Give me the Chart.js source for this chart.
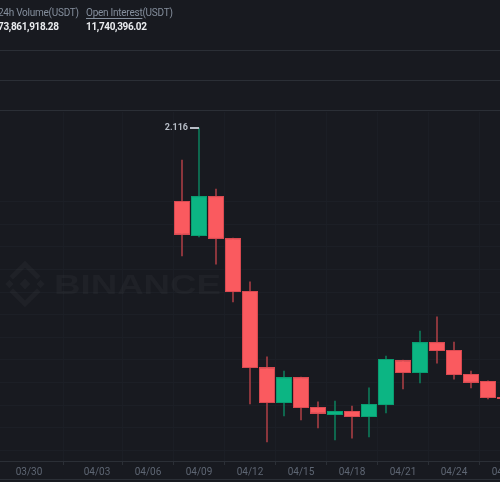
<!DOCTYPE html>
<html><head><meta charset="utf-8">
<script src="https://cdn.jsdelivr.net/npm/chart.js@4.4.0/dist/chart.umd.min.js"></script>
<style>
html,body{margin:0;padding:0;background:#181a20;width:500px;height:482px;overflow:hidden;font-family:Roboto,"Noto Sans",sans-serif;}
#wrap{position:relative;width:500px;height:482px;}
canvas{position:absolute;left:0;top:0;}
.hdr{position:absolute;font-size:10px;color:#848e9c;white-space:nowrap;line-height:12px;letter-spacing:-0.25px;}
.val{position:absolute;font-size:10px;color:#eaecef;font-weight:bold;white-space:nowrap;line-height:12px;letter-spacing:-0.35px;}
.ul{text-decoration:underline;text-decoration-color:#848e9c;text-underline-offset:2px;}
.hl{position:absolute;left:0;width:500px;height:1px;background:#2b2f36;}
</style></head>
<body><div id="wrap">
<canvas id="c" width="500" height="482"></canvas>
<div class="hdr" style="left:-2px;top:7px">24h Volume(USDT)</div>
<div class="hdr" style="left:86px;top:7px"><span class="ul">Open Interest</span>(USDT)</div>
<div class="val" style="left:-2px;top:21px">73,861,918.28</div>
<div class="val" style="left:86px;top:21px">11,740,396.02</div>
<div class="hl" style="top:50px"></div>
<div class="hl" style="top:80px"></div>
<div class="hl" style="top:110px"></div>
<div class="hl" style="top:479px"></div>
</div>
<script>
// candle dates (day offset from 03/30) and labels
const dates = ['04/08','04/09','04/10','04/11','04/12','04/13','04/14','04/15','04/16','04/17','04/18','04/19','04/20','04/21','04/22','04/23','04/24','04/25','04/26','04/27'];
const days  = [9,10,11,12,13,14,15,16,17,18,19,20,21,22,23,24,25,26,27,28];
const opens  = [1.793,1.638,1.815,1.629,1.395,1.058,0.899,1.014,0.882,0.846,0.864,0.837,0.890,1.089,1.032,1.169,1.134,1.028,0.997,0.926];
const highs  = [1.974,2.116,1.846,1.629,1.435,1.103,1.041,1.014,0.904,0.908,0.886,0.966,1.107,1.089,1.218,1.280,1.169,1.041,0.997,0.926];
const lows   = [1.550,1.634,1.514,1.346,0.895,0.727,0.842,0.824,0.789,0.736,0.744,0.749,0.855,0.961,0.988,1.076,1.005,0.966,0.917,0.917];
const closes = [1.643,1.815,1.625,1.390,1.054,0.899,1.014,0.877,0.851,0.864,0.837,0.895,1.094,1.032,1.169,1.129,1.023,0.988,0.921,0.917];
// x-axis ticks
const tickDays   = [0,4,7,10,13,16,19,22,25,28];
const tickLabels = ['03/30','04/03','04/06','04/09','04/12','04/15','04/18','04/21','04/24','04/27'];
// horizontal grid values
const gridPrices = [1.79,1.69,1.59,1.49,1.39,1.29,1.19,1.09,0.99,0.89,0.79,0.69];

const UP='#0cb583', DOWN='#fa5a5f', UPB='#0a9e72', DOWNB='#d94a51', UPW='#0f6e52', DOWNW='#94393f';
const isUp = i => closes[i] >= opens[i];

const extras = {
  id:'extras',
  beforeDatasetsDraw(chart){
    const ctx = chart.ctx;
    ctx.save();
    ctx.fillStyle='rgba(255,255,255,0.03)';
    ctx.strokeStyle='rgba(255,255,255,0.03)';
    const cx=25, cy=284, s=6;
    const dia=(x,y,r)=>{ctx.beginPath();ctx.moveTo(x,y-r);ctx.lineTo(x+r,y);ctx.lineTo(x,y+r);ctx.lineTo(x-r,y);ctx.closePath();ctx.fill();};
    dia(cx,cy,s*0.9); dia(cx-2.6*s,cy,s*0.7); dia(cx+2.6*s,cy,s*0.7);
    ctx.lineWidth=5;
    ctx.beginPath();ctx.moveTo(cx-2.3*s,cy-1.0*s);ctx.lineTo(cx,cy-3.3*s);ctx.lineTo(cx+2.3*s,cy-1.0*s);ctx.stroke();
    ctx.beginPath();ctx.moveTo(cx-2.3*s,cy+1.0*s);ctx.lineTo(cx,cy+3.3*s);ctx.lineTo(cx+2.3*s,cy+1.0*s);ctx.stroke();
    ctx.font='bold 28px "Liberation Sans", Arial, sans-serif';
    ctx.textBaseline='alphabetic';
    const w=ctx.measureText('BINANCE').width;
    ctx.translate(54,294); ctx.scale(167/w,1);
    ctx.fillText('BINANCE',0,0);
    ctx.restore();
  },
  afterDatasetsDraw(chart){
    const ctx=chart.ctx, xs=chart.scales.x, ys=chart.scales.y;
    let mi=0; highs.forEach((h,i)=>{ if(h>highs[mi]) mi=i; });
    const px=Math.round(xs.getPixelForValue(days[mi])), py=Math.round(ys.getPixelForValue(highs[mi]));
    ctx.save();
    ctx.fillStyle='#b7bdc6'; ctx.fillRect(px-9,py-1,9,2);
    ctx.font='bold 9px Roboto, sans-serif'; ctx.textAlign='right'; ctx.textBaseline='middle';
    ctx.fillText(highs[mi].toFixed(3), px-11, py);
    ctx.restore();
  }
};

new Chart(document.getElementById('c'), {
  type:'bar',
  data:{
    datasets:[
      { label:'body', order:1, grouped:false,
        data: days.map((d,i)=>({x:d, y:[opens[i], closes[i]]})),
        backgroundColor: days.map((d,i)=>isUp(i)?UP:DOWN),
        borderColor: days.map((d,i)=>isUp(i)?UPB:DOWNB),
        borderWidth:1, borderSkipped:false,
        barPercentage:0.94, categoryPercentage:1 },
      { label:'wick', order:2, grouped:false,
        data: days.map((d,i)=>({x:d, y:[lows[i], highs[i]]})),
        backgroundColor: days.map((d,i)=>isUp(i)?UPW:DOWNW),
        barThickness:1.2 }
    ]
  },
  options:{
    responsive:false, animation:false,
    layout:{padding:{top:112,left:0,right:0,bottom:0}},
    plugins:{legend:{display:false}, tooltip:{enabled:false}},
    scales:{
      x:{ type:'linear', min:-1.706, max:27.706, offset:false, bounds:'data',
        grid:{color:'#1b1e25', tickColor:'#2b2f36', tickLength:4},
        border:{color:'#2b2f36'},
        ticks:{autoSkip:false, maxRotation:0, padding:1, color:'#5e6673',
               font:{size:10, family:'Roboto, sans-serif'},
               callback:(v,i)=>tickLabels[i]},
        afterBuildTicks:s=>{ s.ticks = tickDays.map(v=>({value:v})); },
        afterFit:s=>{ s.height=21; s.paddingLeft=0; s.paddingRight=0; } },
      y:{ type:'linear', min:0.6426, max:2.1868, bounds:'data',
        grid:{color:'#1c1f26', drawTicks:false},
        border:{display:false},
        ticks:{display:false},
        afterBuildTicks:s=>{ s.ticks = gridPrices.map(v=>({value:v})); },
        afterFit:s=>{ s.width=0; s.paddingTop=0; s.paddingBottom=0; } }
    }
  },
  plugins:[extras]
});
</script>
</body></html>
